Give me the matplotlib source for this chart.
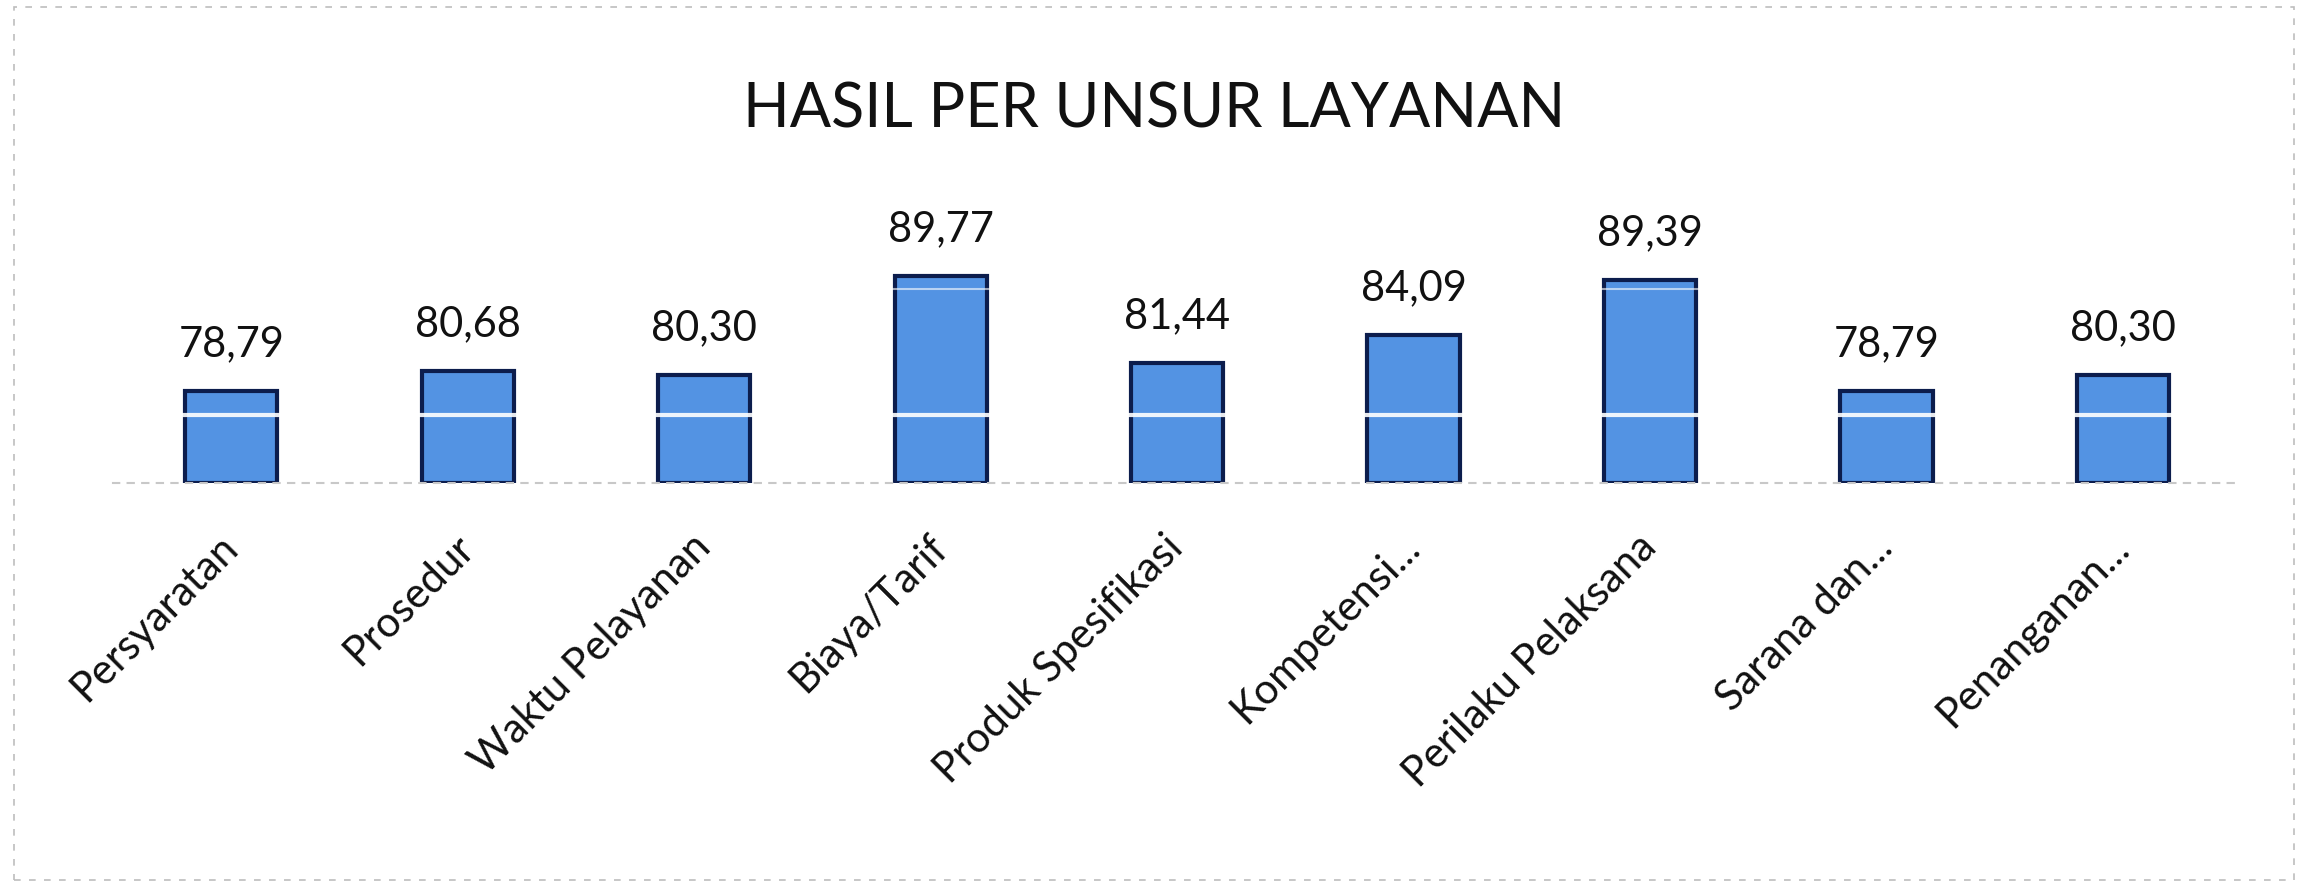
import matplotlib.pyplot as plt
from matplotlib.patches import Rectangle

categories = ['Persyaratan', 'Prosedur', 'Waktu Pelayanan', 'Biaya/Tarif',
              'Produk Spesifikasi', 'Kompetensi...', 'Perilaku Pelaksana',
              'Sarana dan...', 'Penanganan...']
values = [78.79, 80.68, 80.30, 89.77, 81.44, 84.09, 89.39, 78.79, 80.30]
value_labels = ['78,79', '80,68', '80,30', '89,77', '81,44', '84,09', '89,39', '78,79', '80,30']
title = 'HASIL PER UNSUR LAYANAN'

plt.rcParams['font.family'] = ['Lato', 'DejaVu Sans']

fig = plt.figure(figsize=(23.08, 8.91), dpi=100)
ax = fig.add_axes([0.049, 0.458, 0.922, 0.353])

x = list(range(len(categories)))
ax.bar(x, [v - 70 for v in values], bottom=70, width=0.39,
       color='#5393e3', edgecolor='#0c1d4d', linewidth=3, zorder=2)

# white streaks across the bars
ax.axhline(76.5, color='white', lw=3, alpha=0.9, zorder=3)
ax.axhline(88.5, color='white', lw=1.5, alpha=0.6, zorder=3)

for xi, v, s in zip(x, values, value_labels):
    ax.annotate(s, (xi, v), xytext=(0, 20), textcoords='offset points',
                ha='center', va='bottom', fontsize=30, color='#111111')

ax.set_xlim(-0.5, len(categories) - 0.5)
ax.set_ylim(70, 100)
ax.set_yticks([])
ax.set_xticks(x)
ax.set_xticklabels(categories, rotation=45, ha='right', va='center',
                   rotation_mode='anchor', fontsize=30, color='#111111')
ax.tick_params(axis='x', length=0, pad=42)
for side in ['top', 'left', 'right']:
    ax.spines[side].set_visible(False)
ax.spines['bottom'].set_color('#c8c8c8')
ax.spines['bottom'].set_linestyle((0, (3, 4)))
ax.spines['bottom'].set_linewidth(1.5)

fig.text(0.5, 0.877, title, ha='center', va='center', fontsize=44, color='#111111')

# faint chart border
fig.add_artist(Rectangle((0.006, 0.012), 0.988, 0.98, transform=fig.transFigure,
                         fill=False, edgecolor='#bdbdbd', linestyle=(0, (4, 5)), linewidth=1.2))

fig.savefig('out.png', dpi=100)
